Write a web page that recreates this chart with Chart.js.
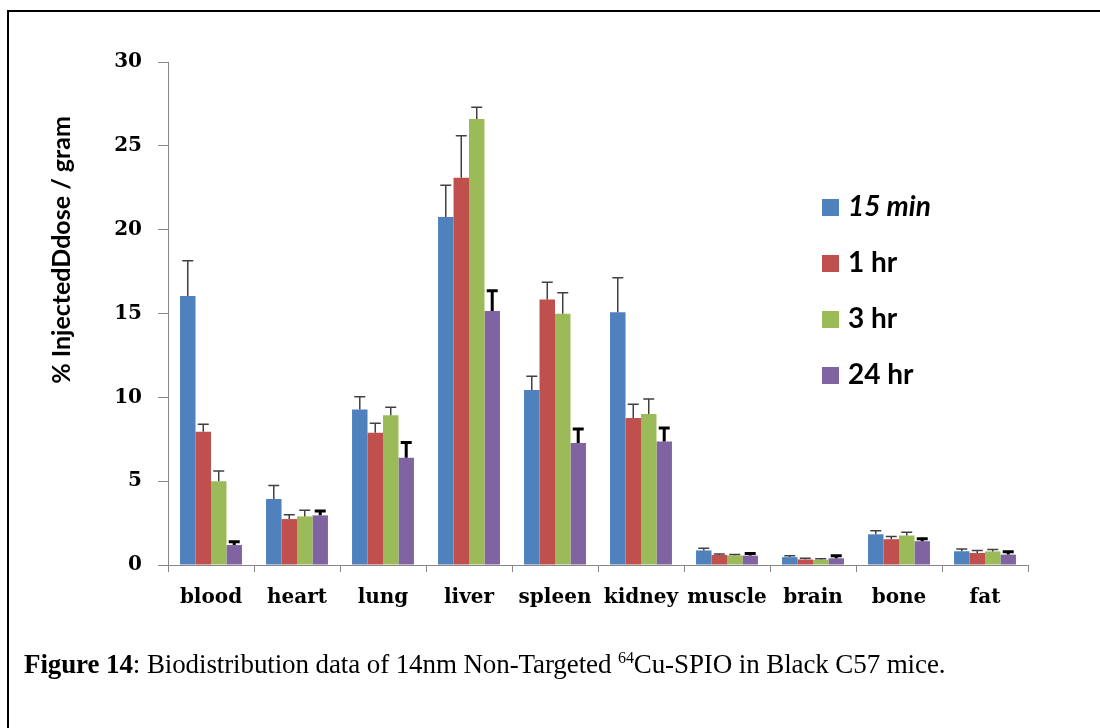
<!DOCTYPE html>
<html>
<head>
<meta charset="utf-8">
<script src="https://cdn.jsdelivr.net/npm/chart.js@4.4.1/dist/chart.umd.min.js"></script>
<style>
  html, body { margin: 0; padding: 0; background: #fff; }
  #wrap { position: relative; width: 1100px; height: 728px; overflow: hidden; }
  #frame { position: absolute; left: 7px; top: 10px; width: 1200px; height: 800px;
           border-left: 2px solid #000; border-top: 2px solid #000; }
  #c { position: absolute; left: 0; top: 0; }
  #caption { position: absolute; left: 24px; top: 649px; font: 27px/31px "Liberation Serif", "Times New Roman", serif;
             color: #000; white-space: nowrap; letter-spacing: -0.1px; }
  #caption sup { font-size: 16px; vertical-align: 10px; line-height: 0; }
</style>
</head>
<body>
<div id="wrap">
  <div id="frame"></div>
  <canvas id="c" width="1100" height="728"></canvas>
  <div id="caption"><b>Figure 14</b>: Biodistribution data of 14nm Non-Targeted <sup>64</sup>Cu-SPIO in Black C57 mice.</div>
</div>
<script>
// Organs sampled
const categories = ['blood', 'heart', 'lung', 'liver', 'spleen', 'kidney', 'muscle', 'brain', 'bone', 'fat'];
// Time points after injection
const seriesLabels = ['15 min', '1 hr', '3 hr', '24 hr'];

// Mean %ID/g per organ at each time point
const min15 = [16.05, 3.94, 9.28, 20.75, 10.44, 15.07, 0.87, 0.47, 1.83, 0.82];
const hr1   = [7.95, 2.74, 7.89, 23.10, 15.84, 8.77, 0.60, 0.33, 1.54, 0.72];
const hr3   = [5.00, 2.90, 8.93, 26.60, 14.99, 9.00, 0.57, 0.31, 1.76, 0.81];
const hr24  = [1.19, 2.96, 6.40, 15.15, 7.27, 7.37, 0.56, 0.40, 1.42, 0.62];

// Standard deviations (upper error bars)
const min15Err = [2.10, 0.80, 0.76, 1.90, 0.82, 2.06, 0.13, 0.08, 0.22, 0.14];
const hr1Err   = [0.45, 0.25, 0.56, 2.50, 1.03, 0.82, 0.06, 0.08, 0.16, 0.15];
const hr3Err   = [0.60, 0.36, 0.48, 0.70, 1.25, 0.90, 0.06, 0.06, 0.20, 0.12];
const hr24Err  = [0.20, 0.26, 0.90, 1.20, 0.84, 0.80, 0.13, 0.15, 0.14, 0.17];

// Y axis tick values
const yTicks = [0, 5, 10, 15, 20, 25, 30];

const colors = ['#4F81BD', '#C0504D', '#9BBB59', '#8064A2'];
const values = [min15, hr1, hr3, hr24];
const errors = [min15Err, hr1Err, hr3Err, hr24Err];

const AXIS_GRAY = '#878787';
const TICK_FONT = { family: '"DejaVu Serif", serif', size: 20, weight: 'bold' };

// Upper error bars with a cap; the last series is drawn heavier
const errorBars = {
  id: 'errorBars',
  afterDatasetsDraw(chart) {
    const ctx = chart.ctx;
    const y = chart.scales.y;
    chart.data.datasets.forEach((ds, di) => {
      const meta = chart.getDatasetMeta(di);
      const heavy = di === 3;
      ctx.save();
      ctx.strokeStyle = heavy ? '#000' : '#404040';
      ctx.lineWidth = heavy ? 3 : 1.5;
      meta.data.forEach((bar, i) => {
        const top = y.getPixelForValue(ds.data[i] + ds.errors[i]);
        const cap = 5.5;
        ctx.beginPath();
        ctx.moveTo(bar.x, bar.y);
        ctx.lineTo(bar.x, top);
        ctx.moveTo(bar.x - cap, top);
        ctx.lineTo(bar.x + cap, top);
        ctx.stroke();
      });
      ctx.restore();
    });
  }
};

// Vertical axis title
const yTitle = {
  id: 'yTitle',
  afterDraw(chart) {
    const ctx = chart.ctx;
    ctx.save();
    ctx.translate(62, 250);
    ctx.rotate(-Math.PI / 2);
    ctx.font = 'bold 25px Lato, sans-serif';
    ctx.fillStyle = '#000';
    ctx.textAlign = 'center';
    ctx.textBaseline = 'middle';
    ctx.fillText('% InjectedDdose / gram', 0, 0);
    ctx.restore();
  }
};

// Legend drawn inside the plot area
const sideLegend = {
  id: 'sideLegend',
  afterDraw(chart) {
    const ctx = chart.ctx;
    ctx.save();
    chart.data.datasets.forEach((ds, i) => {
      const top = 199 + i * 56;
      ctx.fillStyle = ds.backgroundColor;
      ctx.fillRect(822, top, 17, 17);
      ctx.fillStyle = '#000';
      ctx.font = (i === 0 ? 'italic ' : '') + 'bold 28px Lato, sans-serif';
      ctx.textBaseline = 'alphabetic';
      ctx.textAlign = 'left';
      ctx.fillText(ds.label, 848, top + 17);
    });
    ctx.restore();
  }
};

new Chart(document.getElementById('c'), {
  type: 'bar',
  data: {
    labels: categories,
    datasets: seriesLabels.map((label, i) => ({
      label,
      data: values[i],
      errors: errors[i],
      backgroundColor: colors[i],
      borderWidth: 0,
      categoryPercentage: 0.72,
      barPercentage: 1.0
    }))
  },
  options: {
    responsive: false,
    animation: false,
    devicePixelRatio: 1,
    layout: { padding: { top: 62, right: 72, bottom: 0, left: 0 } },
    plugins: { legend: { display: false }, tooltip: { enabled: false } },
    scales: {
      x: {
        grid: { offset: true, drawOnChartArea: false, color: AXIS_GRAY, tickLength: 7 },
        border: { color: AXIS_GRAY, width: 1 },
        ticks: { color: '#000', font: TICK_FONT, padding: 14, maxRotation: 0, autoSkip: false },
        afterFit(scale) { scale.height = 163; }
      },
      y: {
        min: 0,
        max: 30,
        afterBuildTicks(scale) { scale.ticks = yTicks.map(v => ({ value: v })); },
        grid: { drawOnChartArea: false, color: AXIS_GRAY, tickLength: 10 },
        border: { color: AXIS_GRAY, width: 1 },
        ticks: { color: '#000', font: TICK_FONT, padding: 16 },
        afterFit(scale) { scale.width = 168; }
      }
    }
  },
  plugins: [errorBars, yTitle, sideLegend]
});
</script>
</body>
</html>
